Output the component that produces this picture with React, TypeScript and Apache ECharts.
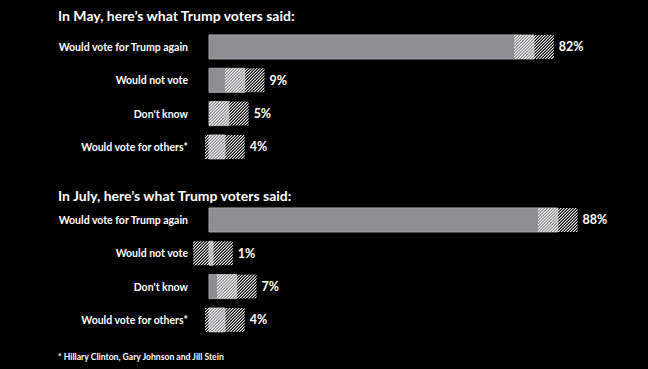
import React, { useEffect, useRef } from "react";
import * as echarts from "echarts";

const categories = [
  "Would vote for Trump again",
  "Would not vote",
  "Don't know",
  "Would vote for others*",
];
const mayValues = [82, 9, 5, 4];
const julyValues = [88, 1, 7, 4];
const marginOfError = [5, 5, 5, 5];

const titles = [
  "In May, here’s what Trump voters said:",
  "In July, here’s what Trump voters said:",
];
const footnote = "* Hillary Clinton, Gary Johnson and Jill Stein";

const FONT = "Lato, 'Open Sans', sans-serif";

function makeHatch(): HTMLCanvasElement {
  const c = document.createElement("canvas");
  c.width = 6;
  c.height = 6;
  const ctx = c.getContext("2d")!;
  const img = ctx.createImageData(6, 6);
  for (let y = 0; y < 6; y++) {
    for (let x = 0; x < 6; x++) {
      const k = (x + y) % 3;
      const a = k === 0 ? 255 : k === 1 ? 110 : 0;
      const i = (y * 6 + x) * 4;
      img.data[i] = 240;
      img.data[i + 1] = 240;
      img.data[i + 2] = 240;
      img.data[i + 3] = a;
    }
  }
  ctx.putImageData(img, 0, 0);
  return c;
}

export default function App() {
  const ref = useRef<HTMLDivElement>(null);
  useEffect(() => {
    document.body.style.margin = "0";
    document.body.style.background = "#000";
    const chart = echarts.init(ref.current!, undefined, { renderer: "svg" });
    const hatch = makeHatch();

    const renderItem = (params: any, api: any) => {
      const cat = api.value(0);
      const v = api.value(1);
      const m = api.value(2);
      const band = api.size([0, 1])[1];
      const h = band * 0.72;
      const yc = api.coord([0, cat])[1];
      const x0 = api.coord([0, cat])[0];
      const x1 = api.coord([v, cat])[0];
      const lo = api.coord([v - m, cat])[0];
      const hi = api.coord([v + m, cat])[0];
      return {
        type: "group",
        children: [
          {
            type: "rect",
            shape: { x: x0, y: yc - h / 2, width: x1 - x0, height: h },
            style: { fill: "#8f8f93", stroke: "#a6a6aa", lineWidth: 1 },
          },
          {
            type: "rect",
            shape: { x: lo, y: yc - h / 2, width: hi - lo, height: h },
            style: { fill: { image: hatch, repeat: "repeat" } as any },
          },
          {
            type: "text",
            style: {
              x: hi + 5,
              y: yc,
              text: v + "%",
              fill: "#fff",
              fontSize: 12.5,
              fontWeight: "bold",
              fontFamily: FONT,
              verticalAlign: "middle",
              align: "left",
            },
          },
        ],
      };
    };

    const grids = [
      { left: 209, width: 396.3, top: 30.3, height: 133.3 },
      { left: 209, width: 396.3, top: 203.3, height: 133.3 },
    ];
    const datasets = [mayValues, julyValues];
    const titleStyle = { color: "#fff", fontSize: 14, fontWeight: "bold", fontFamily: FONT };

    chart.setOption({
      animation: false,
      backgroundColor: "#000",
      title: [
        { text: titles[0], left: 58, top: 8, padding: 0, textStyle: titleStyle },
        { text: titles[1], left: 58, top: 188, padding: 0, textStyle: titleStyle },
        {
          text: footnote,
          left: 58,
          top: 352,
          padding: 0,
          textStyle: { color: "#fff", fontSize: 8.6, fontWeight: "bold", fontFamily: FONT },
        },
      ],
      grid: grids,
      xAxis: grids.map((_, i) => ({
        type: "value",
        gridIndex: i,
        min: 0,
        max: 100,
        show: false,
      })),
      yAxis: grids.map((_, i) => ({
        type: "category",
        gridIndex: i,
        inverse: true,
        data: categories,
        axisLine: { show: false },
        axisTick: { show: false },
        splitLine: { show: false },
        axisLabel: {
          color: "#fff",
          fontSize: 10.5,
          fontWeight: "bold",
          fontFamily: FONT,
          margin: 21,
        },
      })),
      series: datasets.map((vals, i) => ({
        type: "custom",
        xAxisIndex: i,
        yAxisIndex: i,
        clip: false,
        encode: { x: 1, y: 0 },
        renderItem,
        data: vals.map((v, j) => [j, v, marginOfError[j]]),
      })),
    });
    return () => chart.dispose();
  }, []);
  return (
    <div
      ref={ref}
      style={{ position: "fixed", left: 0, top: 0, width: 648, height: 369, background: "#000" }}
    />
  );
}
